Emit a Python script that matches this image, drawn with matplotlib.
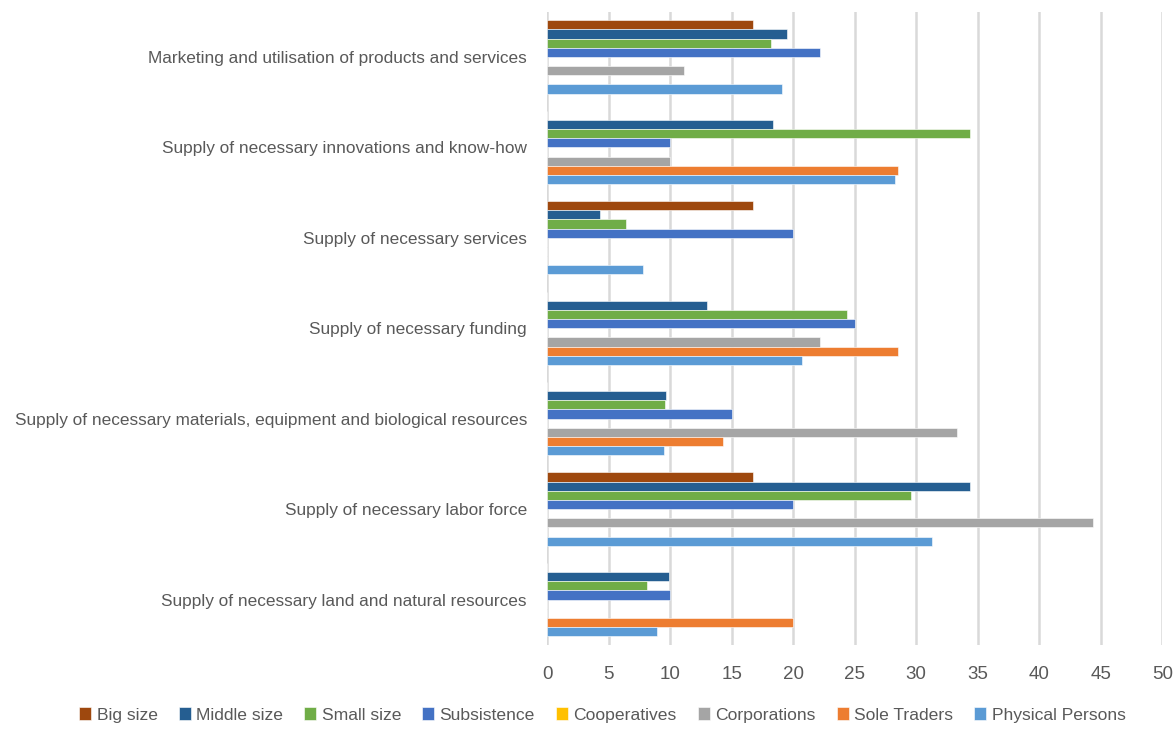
import matplotlib
matplotlib.use('Agg')
import matplotlib.pyplot as plt
import numpy as np

plt.rcParams['font.family'] = ['Liberation Sans', 'DejaVu Sans']

categories = [
    'Marketing and utilisation of products and services',
    'Supply of necessary innovations and know-how',
    'Supply of necessary services',
    'Supply of necessary funding',
    'Supply of necessary materials, equipment and biological resources',
    'Supply of necessary labor force',
    'Supply of necessary land and natural resources',
]

series_names = ['Big size', 'Middle size', 'Small size', 'Subsistence',
                'Cooperatives', 'Corporations', 'Sole Traders', 'Physical Persons']

big_size = [16.7, 0, 16.7, 0, 0, 16.7, 0]
middle_size = [19.5, 18.4, 4.3, 13.0, 9.7, 34.4, 9.9]
small_size = [18.2, 34.4, 6.4, 24.4, 9.6, 29.6, 8.1]
subsistence = [22.2, 10.0, 20.0, 25.0, 15.0, 20.0, 10.0]
cooperatives = [0, 0, 0, 0, 0, 0, 0]
corporations = [11.1, 10.0, 0, 22.2, 33.3, 44.4, 0]
sole_traders = [0, 28.5, 0, 28.5, 14.3, 0, 20.0]
physical_persons = [19.1, 28.3, 7.8, 20.7, 9.5, 31.3, 8.9]

values = [big_size, middle_size, small_size, subsistence,
          cooperatives, corporations, sole_traders, physical_persons]
colors = ['#9E480E', '#255E91', '#70AD47', '#4472C4',
          '#FFC000', '#A5A5A5', '#ED7D31', '#5B9BD5']

fig = plt.figure(figsize=(11.74, 7.31), dpi=100)
ax = fig.add_axes([0.466, 0.118, 0.524, 0.866])

y = np.arange(len(categories))
h = 0.1014
for j, (name, vals, col) in enumerate(zip(series_names, values, colors)):
    ax.barh(y + (j - 3.5) * h, vals, height=h, color=col, label=name,
            edgecolor='white', linewidth=0.4)

ax.set_ylim(len(categories) - 0.5, -0.5)
ax.set_xlim(0, 50)
ax.set_xticks(np.arange(0, 51, 5))
ax.set_yticks(y)
ax.set_yticklabels(categories)
ax.xaxis.grid(True, color='#D9D9D9', linewidth=1.8)
ax.set_axisbelow(True)
for s in ax.spines.values():
    s.set_visible(False)
ax.tick_params(axis='both', length=0, colors='#595959')
ax.tick_params(axis='y', labelsize=12.4, pad=14.5)
ax.tick_params(axis='x', labelsize=13.5, pad=15.5)

fig.legend(loc='lower center', bbox_to_anchor=(0.513, -0.01), ncol=8,
           frameon=False, fontsize=12.6, handlelength=0.7, handleheight=0.7,
           handletextpad=0.3, columnspacing=1.2, labelcolor='#595959')

fig.savefig('out.png', dpi=100)
